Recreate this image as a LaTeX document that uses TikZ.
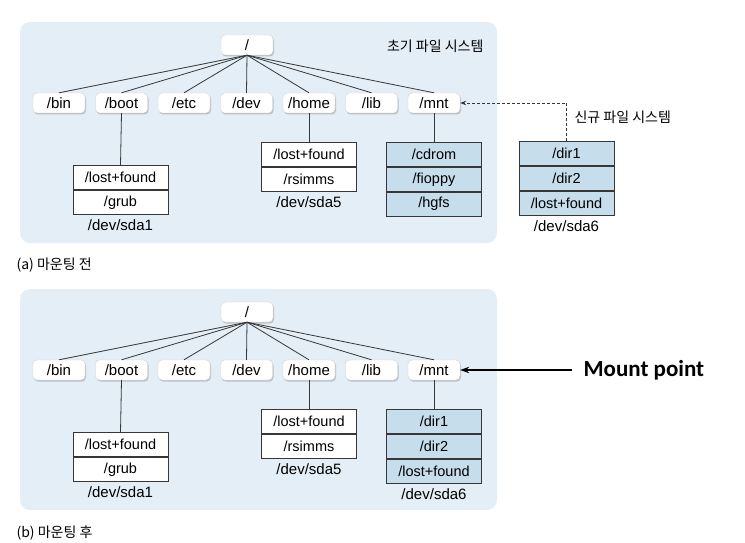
\documentclass[tikz,border=0pt]{standalone}
\usepackage{fontspec}
\setmainfont{Liberation Sans}
\newfontfamily\kofont{Noto Sans CJK KR}
\newfontfamily\calfont{Carlito}
\usetikzlibrary{positioning, arrows.meta, shadows}
\definecolor{panelblue}{RGB}{227, 238, 246}
\definecolor{cellblue}{RGB}{198, 221, 235}
\definecolor{linegray}{RGB}{55, 55, 55}

\begin{document}
\begin{tikzpicture}[x=1pt, y=-1pt,
  dirnode/.style={draw=gray!35, fill=white, rounded corners=4pt, minimum width=52pt, minimum height=20pt, inner sep=0pt,
    font=\fontsize{15}{15}\selectfont, drop shadow={shadow xshift=1pt, shadow yshift=-1.5pt, opacity=0.4}},
  cell/.style={draw=linegray, line width=0.9pt, fill=white, minimum width=95pt, minimum height=24pt, inner sep=0pt,
    font=\fontsize{14.5}{14.5}\selectfont},
  mcell/.style={cell, fill=cellblue},
  devlabel/.style={font=\fontsize{15}{15}\selectfont},
  kolabel/.style={font=\kofont\fontsize{14}{14}\selectfont},
  treeline/.style={draw=linegray, line width=0.8pt}]
  \useasboundingbox (0,0) rectangle (745,543);

  % (a) before mounting
  \fill[panelblue, rounded corners=10pt] (20,22) rectangle (497,243);
  \node[dirnode] (a-root) at (247,45) {/};
  \foreach \n [count=\i from 0] in {bin,boot,etc,dev,home,lib,mnt} {
    \node[dirnode] (a-\n) at (59+62.5*\i, 103) {/\n};
    \draw[treeline] (a-root.south) -- (a-\n.north);
  }
  \node[kolabel, anchor=east] (a-title) at (487,46) {초기 파일 시스템};

  \node[cell, anchor=north] (a-lost1) at (120.5,165) {/lost+found};
  \node[cell, below=0pt of a-lost1] (a-grub) {/grub};
  \node[devlabel, below=1pt of a-grub] (a-sda1) {/dev/sda1};
  \draw[treeline] (a-boot.south) -- (a-lost1.north);

  \node[cell, anchor=north] (a-lost5) at (309,142) {/lost+found};
  \node[cell, below=0pt of a-lost5] (a-rsimms) {/rsimms};
  \node[devlabel, below=1pt of a-rsimms] (a-sda5) {/dev/sda5};
  \draw[treeline] (a-home.south) -- (a-lost5.north);

  \node[mcell, anchor=north] (a-cdrom) at (434,142) {/cdrom};
  \node[mcell, below=0pt of a-cdrom] (a-floppy) {/fioppy};
  \node[mcell, below=0pt of a-floppy] (a-hgfs) {/hgfs};
  \draw[treeline] (a-mnt.south) -- (a-cdrom.north);

  % new file system, not yet mounted
  \node[mcell, anchor=north] (a-dir1) at (566.5,141) {/dir1};
  \node[mcell, below=0pt of a-dir1] (a-dir2) {/dir2};
  \node[mcell, below=0pt of a-dir2] (a-lost6) {/lost+found};
  \node[devlabel, below=1pt of a-lost6] (a-sda6) {/dev/sda6};
  \draw[linegray, line width=0.8pt, dash pattern=on 3pt off 2pt, -{Stealth[length=6pt, width=4.5pt]}]
    (a-dir1.north) |- (a-mnt.east);
  \node[kolabel, anchor=west] (a-new) at (571,117) {신규 파일 시스템};

  \node[kolabel, anchor=west] (a-cap) at (13,265) {(a) 마운팅 전};

  % (b) after mounting
  \fill[panelblue, rounded corners=10pt] (20,289) rectangle (497,510);
  \node[dirnode] (b-root) at (247,312) {/};
  \foreach \n [count=\i from 0] in {bin,boot,etc,dev,home,lib,mnt} {
    \node[dirnode] (b-\n) at (59+62.5*\i, 370) {/\n};
    \draw[treeline] (b-root.south) -- (b-\n.north);
  }

  \node[cell, anchor=north] (b-lost1) at (120.5,432) {/lost+found};
  \node[cell, below=0pt of b-lost1] (b-grub) {/grub};
  \node[devlabel, below=1pt of b-grub] (b-sda1) {/dev/sda1};
  \draw[treeline] (b-boot.south) -- (b-lost1.north);

  \node[cell, anchor=north] (b-lost5) at (309,409) {/lost+found};
  \node[cell, below=0pt of b-lost5] (b-rsimms) {/rsimms};
  \node[devlabel, below=1pt of b-rsimms] (b-sda5) {/dev/sda5};
  \draw[treeline] (b-home.south) -- (b-lost5.north);

  \node[mcell, anchor=north] (b-dir1) at (434,409) {/dir1};
  \node[mcell, below=0pt of b-dir1] (b-dir2) {/dir2};
  \node[mcell, below=0pt of b-dir2] (b-lost6) {/lost+found};
  \node[devlabel, below=1pt of b-lost6] (b-sda6) {/dev/sda6};
  \draw[treeline] (b-mnt.south) -- (b-dir1.north);

  \coordinate (b-mp) at (572,370);
  \node[font=\calfont\bfseries\fontsize{23}{23}\selectfont, anchor=west] (b-mptext) at (580,370) {Mount point};
  \draw[line width=1.1pt, -{Stealth[length=9pt, width=6.5pt]}] (b-mp) -- (b-mnt.east);

  \node[kolabel, anchor=west] (b-cap) at (13,533) {(b) 마운팅 후};
\end{tikzpicture}
\end{document}
